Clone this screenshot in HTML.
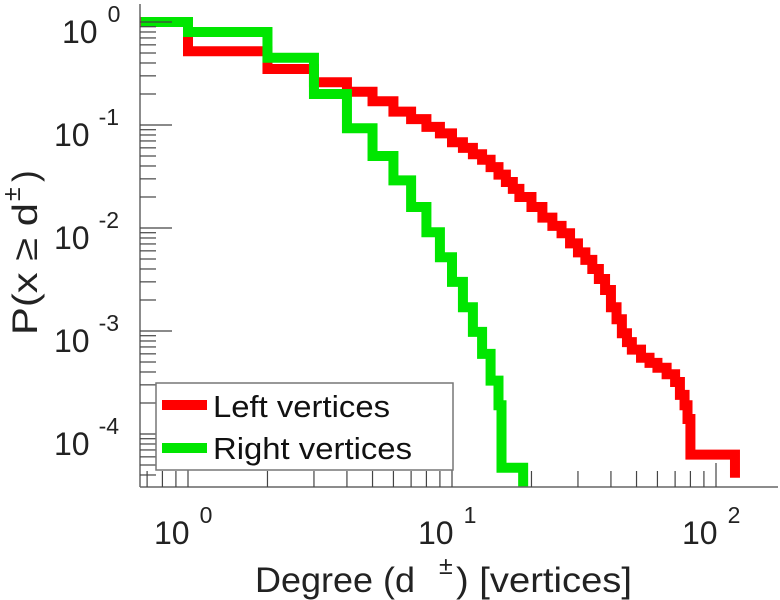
<!DOCTYPE html>
<html><head><meta charset="utf-8"><style>
html,body{margin:0;padding:0;background:#fff;}
svg{display:block;font-family:"Liberation Sans",sans-serif;}
</style></head><body>
<svg id="chart" width="780" height="600" viewBox="0 0 780 600" xmlns="http://www.w3.org/2000/svg">
<g id="plot"></g>
<g id="axes"></g>
<g id="legend">
  <rect x="156" y="383" width="297" height="87" fill="#fff" stroke="#777" stroke-width="1.5"/>
  <line x1="162" y1="405" x2="207" y2="405" stroke="#ff0000" stroke-width="10"/>
  <text x="213" y="417" font-size="31" fill="#111" textLength="177" lengthAdjust="spacingAndGlyphs">Left vertices</text>
  <line x1="162" y1="448" x2="207" y2="448" stroke="#00e600" stroke-width="10"/>
  <text x="213" y="459" font-size="31" fill="#111" textLength="199" lengthAdjust="spacingAndGlyphs">Right vertices</text>
</g>
<g fill="#222">
  <text x="255" y="592" font-size="35" textLength="160" lengthAdjust="spacingAndGlyphs">Degree (d</text>
  <text x="439" y="574" font-size="25">±</text>
  <text x="456" y="592" font-size="35" textLength="176" lengthAdjust="spacingAndGlyphs">) [vertices]</text>
</g>
<g fill="#222">
  <text transform="translate(37,335) rotate(-90)" font-size="35" textLength="132" lengthAdjust="spacingAndGlyphs">P(x ≥ d</text>
  <text transform="translate(20,201) rotate(-90)" font-size="25">±</text>
  <text transform="translate(37,182) rotate(-90)" font-size="35">)</text>
</g>
</svg>
<script>
const leftDeg = [0.664,1,2,3,4,5,6,7,8,9,10,11,12,13,14,15,16,17,18,20,22,24,26,28,30,32,34,36,38,40,42,44,46,48,52,56,60,65,70,73,76,78,80,118];
const leftP = [1,0.52,0.35,0.26,0.21,0.17,0.135,0.114,0.096,0.083,0.068,0.060,0.052,0.046,0.039,0.033,0.028,0.024,0.020,0.016,0.0126,0.0105,0.0089,0.0071,0.0058,0.0049,0.0040,0.0032,0.0025,0.0017,0.0013,0.00095,0.00078,0.00066,0.00055,0.00049,0.00044,0.00038,0.00032,0.00024,0.00019,0.00014,0.000063,0.000042];
const rightDeg = [0.664,1,2,3,4,5,6,7,8,9,10,11,12,13,14,15,15.4,18.6];
const rightP = [1,0.80,0.45,0.20,0.093,0.050,0.029,0.016,0.0091,0.0052,0.0030,0.0017,0.00098,0.0006,0.00033,0.00019,0.000047,0.00001];
const xTickExps = [0,1,2];
const yTickExps = [0,-1,-2,-3,-4];

const X0=188, XD=264, Y0=22, YD=103;
const pLeft=140, pRight=778, pTop=4, pBottom=487;
function xs(v){return X0+Math.log10(v)*XD;}
function ys(v){return Y0-Math.log10(v)*YD;}
const NS="http://www.w3.org/2000/svg";
function mk(tag, attrs, parent){const e=document.createElementNS(NS,tag);for(const k in attrs)e.setAttribute(k,attrs[k]);parent.appendChild(e);return e;}

const plot=document.getElementById('plot');
const clip=mk('clipPath',{id:'clipr'},plot);
mk('rect',{x:pLeft,y:0,width:pRight-pLeft,height:pBottom},clip);
function stepPath(deg,p){
  let d='';
  for(let i=0;i<deg.length;i++){
    const x=xs(deg[i]), y=ys(p[i]);
    if(i===0) d+='M'+x+' '+y; else d+=' V'+y;
    const nx = i<deg.length-1 ? xs(deg[i+1]) : x;
    d+=' H'+nx;
  }
  return d;
}
const red=mk('path',{d:stepPath(leftDeg,leftP),fill:'none',stroke:'#ff0000','stroke-width':10,'stroke-linejoin':'miter','stroke-linecap':'square','clip-path':'url(#clipr)'},plot);


const green=mk('path',{d:stepPath(rightDeg,rightP),fill:'none',stroke:'#00e600','stroke-width':10,'stroke-linejoin':'miter','clip-path':'url(#clipr)'},plot);



const axes=document.getElementById('axes');
const yl=mk('line',{x1:pLeft,y1:pTop,x2:pLeft,y2:pBottom,stroke:'#666','stroke-width':1.5},axes);


const xl=mk('line',{x1:pLeft,y1:pBottom,x2:pRight,y2:pBottom,stroke:'#666','stroke-width':1.5},axes);



for(let e=-1;e<=2;e++){
  for(let m=1;m<=9;m++){
    const v=m*Math.pow(10,e); const x=xs(v);
    if(x<pLeft+1||x>pRight) continue;
    const len = m===1?24:16;
    const t=mk('line',{x1:x,y1:pBottom,x2:x,y2:pBottom-len,stroke:'#444','stroke-width':1.2},axes);
    
    
  }
}
for(let e=-5;e<=0;e++){
  for(let m=1;m<=9;m++){
    const v=m*Math.pow(10,e); const y=ys(v);
    if(y<pTop||y>pBottom-1) continue;
    const len = m===1?32:16;
    const t=mk('line',{x1:pLeft,y1:y,x2:pLeft+len,y2:y,stroke:'#444','stroke-width':1.2},axes);
    
    
  }
}
xTickExps.forEach(e=>{
  const x=xs(Math.pow(10,e));
  const t=mk('text',{x:x-34,y:544,'font-size':32,fill:'#222'},axes);
  t.textContent='10';
  const s=mk('tspan',{dx:10,dy:-21,'font-size':23},t); s.textContent=String(e);
  
  
});
yTickExps.forEach(e=>{
  const y=ys(Math.pow(10,e));
  const t=mk('text',{x:e===0?62:54,y:y+21,'font-size':32,fill:'#222'},axes);
  t.textContent='10';
  const s=mk('tspan',{dx:e===0?10:9,dy:-21,'font-size':23},t); s.textContent=String(e);
  
  
});
</script>
</body></html>
